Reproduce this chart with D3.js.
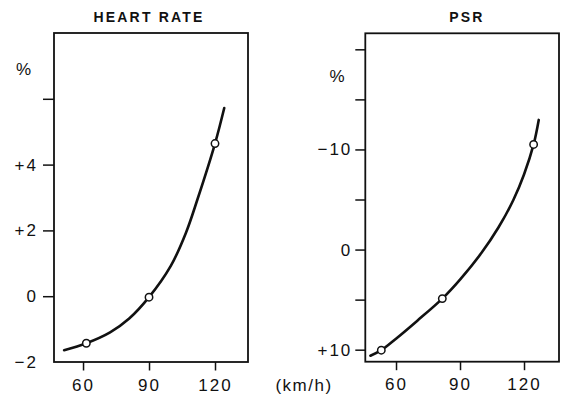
<!DOCTYPE html>
<html>
<head>
<meta charset="utf-8">
<script src="https://cdn.jsdelivr.net/npm/d3@7"></script>
<style>
  body { margin: 0; background: #fff; }
  text { font-family: "Liberation Sans", Arial, sans-serif; fill: #111; }
  .tick line { stroke: #111; stroke-width: 1.5; }
</style>
</head>
<body>
<div id="chart"></div>
<script>
// speed ticks (km/h)
const speedTicks = [60, 90, 120];

// HEART RATE panel
const hrTickValues = [-2, 0, 2, 4, 6];
const hrTickLabels = ["\u22122", "0", "+2", "+4", ""];
const hrCurveSpeed = [51.4, 61.5, 72.3, 81, 90, 99.9, 106.8, 112, 120, 124.2];
const hrCurveValue = [-1.64, -1.43, -1.1, -0.68, -0.03, 0.92, 1.93, 2.94, 4.64, 5.72];
const hrPointSpeed = [61.5, 90, 120];
const hrPointValue = [-1.43, -0.03, 4.64];

// PSR panel
const psrTickValues = [-20, -15, -10, -5, 0, 5, 10];
const psrTickLabels = ["", "", "\u221210", "", "0", "", "+10"];
const psrCurveSpeed = [48, 53.1, 60, 70, 81.7, 90, 100, 108, 115, 120, 124.5, 126.9];
const psrCurveValue = [10.6, 10.05, 8.9, 7.1, 4.9, 3.0, 0.35, -2.2, -4.95, -7.5, -10.5, -12.95];
const psrPointSpeed = [53.1, 81.7, 124.5];
const psrPointValue = [10.05, 4.9, -10.5];

const svg = d3.select("#chart").append("svg")
    .attr("width", 567)
    .attr("height", 395);

function drawPanel(opt) {
    const x = d3.scaleLinear().domain(opt.xDomain).range(opt.xRange);
    const y = d3.scaleLinear().domain(opt.yDomain).range(opt.yRange);
    const g = svg.append("g");

    // frame
    g.append("rect")
     .attr("x", opt.xRange[0])
     .attr("y", Math.min(...opt.yRange))
     .attr("width", opt.xRange[1] - opt.xRange[0])
     .attr("height", Math.abs(opt.yRange[1] - opt.yRange[0]))
     .attr("fill", "none")
     .attr("stroke", "#111")
     .attr("stroke-width", 1.8);

    // y axis
    const ya = g.append("g")
     .attr("transform", `translate(${opt.xRange[0]},0)`)
     .call(d3.axisLeft(y).tickValues(opt.yTicks)
            .tickFormat((d, i) => opt.yLabels[i])
            .tickSize(opt.yTickSize).tickPadding(opt.yPad));
    ya.select(".domain").remove();
    ya.selectAll("text").style("font-size", "17px").style("letter-spacing", "2px");
    if (opt.hideFirstTick) ya.select(".tick line").remove();

    // x axis
    const xa = g.append("g")
     .attr("transform", `translate(0,${Math.max(...opt.yRange)})`)
     .call(d3.axisBottom(x).tickValues(speedTicks).tickSize(8.5).tickPadding(8));
    xa.select(".domain").remove();
    xa.selectAll("text").style("font-size", "17px").style("letter-spacing", "2px");

    // curve
    const pts = opt.cx.map((s, i) => [s, opt.cy[i]]);
    g.append("path")
     .datum(pts)
     .attr("fill", "none")
     .attr("stroke", "#111")
     .attr("stroke-width", 2.6)
     .attr("stroke-linecap", "round")
     .attr("d", d3.line().x(d => x(d[0])).y(d => y(d[1])).curve(d3.curveCatmullRom));

    // points
    g.selectAll("circle.pt")
     .data(opt.px.map((s, i) => [s, opt.py[i]]))
     .enter().append("circle")
     .attr("class", "pt")
     .attr("cx", d => x(d[0]))
     .attr("cy", d => y(d[1]))
     .attr("r", 3.7)
     .attr("fill", "#fff")
     .attr("stroke", "#111")
     .attr("stroke-width", 1.5);

    // title
    svg.append("text")
     .attr("x", opt.titleX)
     .attr("y", 22)
     .attr("text-anchor", "middle")
     .style("font-size", "14px")
     .style("font-weight", "bold")
     .style("letter-spacing", "2.2px")
     .text(opt.title);

    // % label
    svg.append("text")
     .attr("x", opt.pctX)
     .attr("y", opt.pctY)
     .attr("text-anchor", "middle")
     .attr("dy", "0.35em")
     .style("font-size", "17px")
     .text("%");
}

drawPanel({
    title: "HEART RATE", titleX: 149,
    xDomain: [46.8, 135], xRange: [54, 248],
    yDomain: [-2, 8], yRange: [362, 33],
    yTicks: hrTickValues, yLabels: hrTickLabels,
    yTickSize: 11, yPad: 5, hideFirstTick: true,
    cx: hrCurveSpeed, cy: hrCurveValue,
    px: hrPointSpeed, py: hrPointValue,
    pctX: 23.5, pctY: 69
});

drawPanel({
    title: "PSR", titleX: 467,
    xDomain: [45.6, 136.4], xRange: [365.3, 559],
    yDomain: [-21.6, 11.2], yRange: [33.3, 361.7],
    yTicks: psrTickValues, yLabels: psrTickLabels,
    yTickSize: 10, yPad: 3, hideFirstTick: false,
    cx: psrCurveSpeed, cy: psrCurveValue,
    px: psrPointSpeed, py: psrPointValue,
    pctX: 337, pctY: 76
});

// unit label
svg.append("text")
   .attr("x", 304)
   .attr("y", 385)
   .attr("dy", "0.35em")
   .attr("text-anchor", "middle")
   .style("font-size", "17px")
   .style("letter-spacing", "1.5px")
   .text("(km/h)");
</script>
</body>
</html>
